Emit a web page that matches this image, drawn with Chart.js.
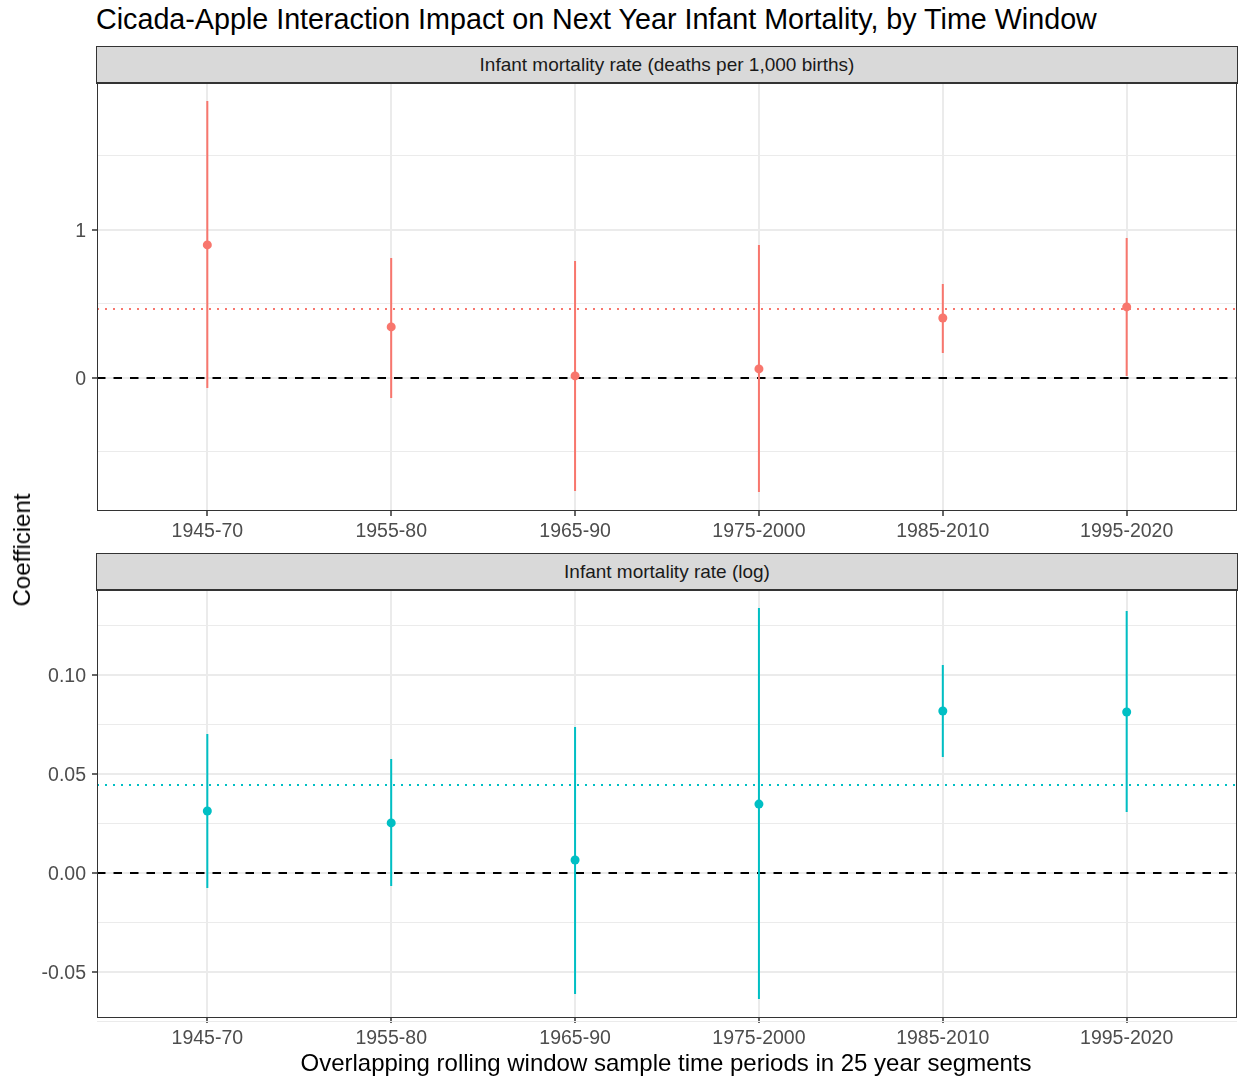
<!DOCTYPE html>
<html>
<head>
<meta charset="utf-8">
<script src="https://cdn.jsdelivr.net/npm/chart.js@4"></script>
<style>
  body { margin: 0; background: #fff; font-family: "Liberation Sans", Arial, sans-serif; }
  #wrap { position: relative; width: 1238px; height: 1081px; }
  .title { position: absolute; left: 96px; top: 5px; font-size: 28.7px; line-height: 1; color: #000; white-space: nowrap; }
  .strip { position: absolute; left: 96px; width: 1142px; height: 38px; box-sizing: border-box;
           background: #d9d9d9; border: 1px solid #333; border-bottom-width: 2px;
           font-size: 19px; color: #1a1a1a; text-align: center; line-height: 35px; }
  .ylab { position: absolute; left: 22px; top: 550px; font-size: 24px; color: #000; white-space: nowrap;
          transform: translate(-50%, -50%) rotate(-90deg); }
  .xlab { position: absolute; left: 666px; top: 1063px; font-size: 24px; color: #000; white-space: nowrap;
          transform: translate(-50%, -50%); }
  canvas { position: absolute; left: 0; }
</style>
</head>
<body>
<div id="wrap">
  <div class="title">Cicada-Apple Interaction Impact on Next Year Infant Mortality, by Time Window</div>
  <div class="strip" style="top:46px">Infant mortality rate (deaths per 1,000 births)</div>
  <canvas id="rate-chart" width="1238" height="469" style="top:82px"></canvas>
  <div class="strip" style="top:553px">Infant mortality rate (log)</div>
  <canvas id="log-chart" width="1238" height="469" style="top:589px"></canvas>
  <div class="ylab">Coefficient</div>
  <div class="xlab">Overlapping rolling window sample time periods in 25 year segments</div>
</div>
<script>
// time windows on the x axis
const windows = ['1945-70', '1955-80', '1965-90', '1975-2000', '1985-2010', '1995-2020'];

// panel 1: deaths per 1,000 births
const rateEst = [0.899, 0.345, 0.014, 0.061, 0.405, 0.480];
const rateLo  = [-0.068, -0.135, -0.764, -0.770, 0.169, 0.014];
const rateHi  = [1.872, 0.811, 0.790, 0.899, 0.635, 0.946];
const rateMean = 0.466;
const rateTicks = [-0.5, 0, 0.5, 1, 1.5];
const rateMajor = [0, 1];
const rateRange = [-0.899, 1.993];

// panel 2: log rate
const logEst = [0.0313, 0.0253, 0.0066, 0.0348, 0.0818, 0.0813];
const logLo  = [-0.0076, -0.0066, -0.0611, -0.0636, 0.0586, 0.0308];
const logHi  = [0.0702, 0.0576, 0.0737, 0.1338, 0.1050, 0.1323];
const logMean = 0.0444;
const logTicks = [-0.075, -0.05, -0.025, 0, 0.025, 0.05, 0.075, 0.1, 0.125];
const logMajor = [-0.05, 0, 0.05, 0.1];
const logRange = [-0.0732, 0.1429];

const X_MIN = -0.6, X_MAX = windows.length - 0.4;
const TICK_FONT = { family: '"Liberation Sans", Arial, sans-serif', size: 19.5 };

const isMajor = (majors, v) => majors.some(m => Math.abs(m - v) < 1e-9);

const panelBorder = {
  id: 'panelBorder',
  afterDatasetsDraw(chart) {
    const { ctx, chartArea: a } = chart;
    ctx.save();
    ctx.strokeStyle = '#333';
    ctx.lineWidth = 1;
    ctx.strokeRect(a.left + 0.5, a.top + 0.5, a.right - a.left - 1, a.bottom - a.top - 1);
    ctx.restore();
  }
};

function makePanel(id, est, lo, hi, mean, color, ticks, majors, range, digits) {
  // error bars as one broken line: lo -> hi, then a gap
  const bars = [];
  windows.forEach((_, i) => {
    bars.push({ x: i, y: lo[i] }, { x: i, y: hi[i] }, { x: i, y: null });
  });

  new Chart(document.getElementById(id), {
    type: 'scatter',
    data: {
      datasets: [
        {
          data: est.map((v, i) => ({ x: i, y: v })),
          backgroundColor: color, borderWidth: 0, pointRadius: 4.5, order: 0
        },
        {
          data: bars, showLine: true, borderColor: color, borderWidth: 2,
          pointRadius: 0, spanGaps: false, order: 1
        },
        {
          data: [{ x: X_MIN, y: 0 }, { x: X_MAX, y: 0 }], showLine: true,
          borderColor: '#000', borderWidth: 2, borderDash: [8.5, 8], pointRadius: 0, order: 2
        },
        {
          data: [{ x: X_MIN, y: mean }, { x: X_MAX, y: mean }], showLine: true,
          borderColor: color, borderWidth: 2, borderDash: [2, 6], pointRadius: 0, order: 3
        }
      ]
    },
    options: {
      responsive: false,
      animation: false,
      devicePixelRatio: 1,
      layout: { autoPadding: false, padding: { top: 1, right: 1, left: 0, bottom: 0 } },
      plugins: { legend: { display: false }, tooltip: { enabled: false } },
      scales: {
        x: {
          type: 'linear', min: X_MIN, max: X_MAX,
          afterBuildTicks(s) { s.ticks = windows.map((_, i) => ({ value: i })); },
          afterFit(s) { s.height = 40; s.paddingLeft = 0; s.paddingRight = 0; },
          border: { display: false },
          grid: { color: '#ebebeb', lineWidth: 2, tickColor: '#333', tickWidth: 1.5, tickLength: 5 },
          ticks: {
            color: '#4d4d4d', font: TICK_FONT, padding: 4, maxRotation: 0, autoSkip: false,
            callback: v => windows[v]
          }
        },
        y: {
          min: range[0], max: range[1],
          afterBuildTicks(s) { s.ticks = ticks.map(v => ({ value: v })); },
          afterFit(s) { s.width = 97; s.paddingTop = 0; s.paddingBottom = 0; },
          border: { display: false },
          grid: {
            color: '#ebebeb',
            lineWidth: c => isMajor(majors, c.tick.value) ? 2 : 1,
            tickColor: c => isMajor(majors, c.tick.value) ? '#333' : 'rgba(0,0,0,0)',
            tickWidth: 1.5, tickLength: 5
          },
          ticks: {
            color: '#4d4d4d', font: TICK_FONT, padding: 6, autoSkip: false, labelOffset: 1.5,
            callback: v => isMajor(majors, v) ? v.toFixed(digits) : ''
          }
        }
      }
    },
    plugins: [panelBorder]
  });
}

makePanel('rate-chart', rateEst, rateLo, rateHi, rateMean, '#F8766D', rateTicks, rateMajor, rateRange, 0);
makePanel('log-chart', logEst, logLo, logHi, logMean, '#00BFC4', logTicks, logMajor, logRange, 2);
</script>
</body>
</html>
